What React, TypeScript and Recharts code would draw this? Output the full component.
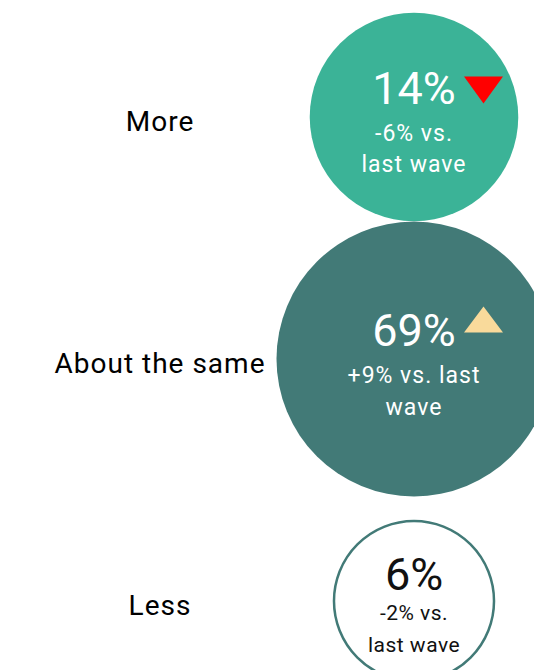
import React from 'react';
import { ScatterChart, Scatter, XAxis, YAxis, ZAxis } from 'recharts';

// ---- data ----
const categories = ['More', 'About the same', 'Less'];
const shares = [14, 69, 6];
const changes = [-6, 9, -2];
const significant = [true, true, false];
const changeNotes = [
  ['-6% vs.', 'last wave'],
  ['+9% vs. last', 'wave'],
  ['-2% vs.', 'last wave'],
];

const rows = categories.map((label, i) => ({
  label,
  share: shares[i],
  change: changes[i],
  significant: significant[i],
  note: changeNotes[i],
}));

// ---- styles ----
const FONT = 'Roboto, "Liberation Sans", Arial, sans-serif';
const STYLES: Record<string, any> = {
  More: { fill: '#3BB397', stroke: 'none', strokeWidth: 0, text: '#FFFFFF', noteSize: 23, pctDy: -13.5, noteDy: [23.5, 55] },
  'About the same': { fill: '#427A77', stroke: 'none', strokeWidth: 0, text: '#FFFFFF', noteSize: 23, pctDy: -13.5, noteDy: [23.5, 56] },
  Less: { fill: '#FFFFFF', stroke: '#427A77', strokeWidth: 2.5, text: '#111111', noteSize: 21, pctDy: -11, noteDy: [18.5, 51] },
};
const UP_COLOR = '#F9DA9B';
const DOWN_COLOR = '#FF0000';

const Bubble = (props: any) => {
  const { cx, cy, payload, size, width } = props;
  if (cx == null || cy == null || !payload) return null;
  const r = size ? Math.sqrt(size / Math.PI) : width / 2;
  const st = STYLES[payload.label];
  const base = cy + st.pctDy;
  let tri: React.ReactNode = null;
  if (payload.significant) {
    const x0 = cx + 50;
    const x1 = cx + 89;
    const xm = (x0 + x1) / 2;
    if (payload.change < 0) {
      tri = <polygon points={`${x0},${base - 27} ${x1},${base - 27} ${xm},${base}`} fill={DOWN_COLOR} />;
    } else {
      tri = <polygon points={`${x0},${base - 13} ${x1},${base - 13} ${xm},${base - 39}`} fill={UP_COLOR} />;
    }
  }
  return (
    <g>
      <circle
        cx={cx}
        cy={cy}
        r={r - st.strokeWidth / 2}
        fill={st.fill}
        stroke={st.stroke}
        strokeWidth={st.strokeWidth}
      />
      <text x={cx} y={base} textAnchor="middle" fontSize={45} fill={st.text} fontFamily={FONT}>
        {`${payload.share}%`}
      </text>
      {payload.note.map((line: string, k: number) => (
        <text
          key={k}
          x={cx}
          y={cy + st.noteDy[k]}
          textAnchor="middle"
          fontSize={st.noteSize}
          letterSpacing={st.noteSize > 22 ? 1 : 0.5}
          fill={st.text}
          fontFamily={FONT}
        >
          {line}
        </text>
      ))}
      {tri}
    </g>
  );
};

const LABEL_CENTER_X = 160;

const CategoryTick = (props: any) => {
  const { y, payload } = props;
  return (
    <text
      x={LABEL_CENTER_X}
      y={y}
      dy="0.5em"
      textAnchor="middle"
      fontSize={28}
      letterSpacing={1}
      fill="#000000"
      fontFamily={FONT}
    >
      {payload.value}
    </text>
  );
};

export default function App() {
  return (
    <div style={{ position: 'absolute', left: 0, top: 0, width: 534, height: 670, background: '#ffffff', overflow: 'hidden' }}>
      <ScatterChart width={534} height={670} margin={{ top: 117, right: 0, bottom: 69, left: 0 }}>
        <XAxis type="number" dataKey={() => 0} domain={[-1, 1]} hide />
        <YAxis
          type="category"
          dataKey="label"
          scale="point"
          reversed
          width={294}
          axisLine={false}
          tickLine={false}
          tick={<CategoryTick />}
          interval={0}
        />
        <ZAxis type="number" dataKey="share" scale="log" domain={[6, 69]} range={[20747, 59404]} />
        <Scatter data={rows} shape={<Bubble />} isAnimationActive={false} />
      </ScatterChart>
    </div>
  );
}
